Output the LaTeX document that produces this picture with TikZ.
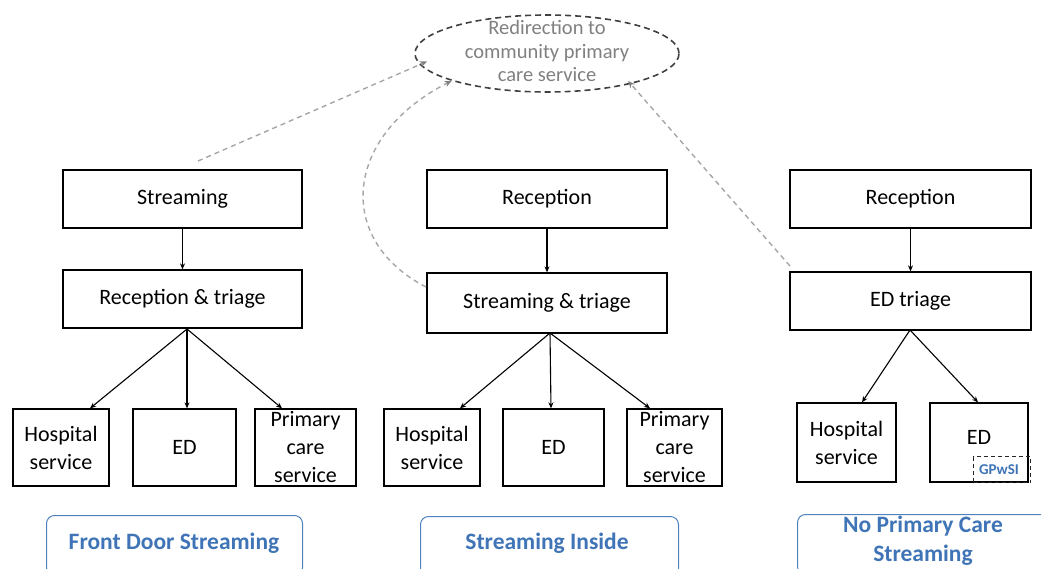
\documentclass[tikz,border=0pt]{standalone}
\usepackage{fontspec}
\setmainfont{Carlito}
\usetikzlibrary{shapes.geometric,arrows.meta,calc}
\definecolor{lblue}{HTML}{4F81BD}
\definecolor{tblue}{HTML}{3F74B6}
\definecolor{dgray}{HTML}{A6A6A6}
\begin{document}
\begin{tikzpicture}[x=1pt,y=-1pt,
  box/.style={draw=black,line width=1.3pt,inner sep=0pt,align=center,font=\fontsize{22}{26}\selectfont},
  topbox/.style={box,minimum width=240,minimum height=58},
  leaf/.style={box,minimum height=77,font=\fontsize{22}{28}\selectfont},
  conn/.style={line width=1.1pt,-{Stealth[length=6pt,width=5pt]}},
  redir/.style={draw=dgray,line width=1.4pt,dash pattern=on 5pt off 4pt,-{Stealth[length=7pt,width=6pt,fill=gray,color=gray]}},
  tagbox/.style={draw=lblue,line width=1pt,rounded corners=8pt,inner sep=0pt},
  tagtext/.style={text=tblue,font=\fontsize{23.5}{29}\selectfont\bfseries,align=center}
]
\useasboundingbox (0,0) rectangle (1041,568);
\clip (0,0) rectangle (1041,568);

% ellipse
\node[ellipse,draw=black!75,line width=1.6pt,dash pattern=on 6pt off 4pt,minimum width=264,minimum height=77,inner sep=0pt] (red) at (547,53.5) {};
\node[text=gray,align=center,font=\fontsize{20.5}{23.5}\selectfont,inner sep=0pt] (redt) at (547,51) {Redirection to\\community primary\\care service};

% column 1
\node[topbox,minimum width=239] (s1) at (182.5,199) {Streaming};
\node[topbox,minimum width=239] (r1) at (182.5,299) {Reception \& triage};
\node[leaf,minimum width=96] (h1) at (61,447.5) {Hospital\\service};
\node[leaf,minimum width=103] (e1) at (184.5,447.5) {ED};
\node[leaf,minimum width=101] (p1) at (305.5,447.5) {Primary\\care\\service};
\draw[conn] (s1.south) -- (r1.north);
\coordinate (f1) at (187,329);
\draw[conn] (f1) -- ($(h1.north)+(29,0)$);
\draw[conn] (f1) -- ($(e1.north)+(2.5,0)$);
\draw[conn] (f1) -- ($(p1.north)+(-23.5,0)$);

% column 2
\node[topbox] (s2) at (547,199) {Reception};
\node[topbox,minimum height=60] (r2) at (547,303) {Streaming \& triage};
\node[leaf,minimum width=96] (h2) at (432,447.5) {Hospital\\service};
\node[leaf,minimum width=101] (e2) at (553.5,447.5) {ED};
\node[leaf,minimum width=95] (p2) at (674.5,447.5) {Primary\\care\\service};
\draw[conn] (s2.south) -- (r2.north);
\coordinate (f2) at (550,333);
\draw[conn] (f2) -- ($(h2.north)+(28,0)$);
\draw[conn] (f2) -- ($(e2.north)+(-2.5,0)$);
\draw[conn] (f2) -- ($(p2.north)+(-24.5,0)$);

% column 3
\node[topbox,minimum width=241] (s3) at (910.5,199) {Reception};
\node[topbox,minimum width=241] (r3) at (910.5,301) {ED triage};
\node[leaf,minimum width=99,minimum height=79] (h3) at (846.5,442.5) {Hospital\\service};
\node[leaf,minimum width=98,minimum height=79,text depth=10pt] (e3) at (979,442.5) {ED};
\draw[conn] (s3.south) -- (r3.north);
\coordinate (f3) at (910,330);
\draw[conn] (f3) -- ($(h3.north)+(15.5,0)$);
\draw[conn] (f3) -- ($(e3.north)+(-1,0)$);
\node[draw=black!85,line width=1pt,dash pattern=on 4pt off 3pt,minimum width=57,minimum height=26,inner sep=0pt,anchor=north west,
  font=\fontsize{15}{17}\selectfont\bfseries,text=tblue] (gp) at (973,456) {\hspace*{-6pt}GPwSI};

% redirection arrows
\coordinate (a1) at (198,161);
\coordinate (a2) at (426,287);
\coordinate (a3) at (790,266);
\draw[redir,shorten >=-8pt] (a1) -- (red.185);
\draw[redir] (a2) .. controls (335,240) and (343,136) .. (red.196);
\draw[redir,shorten >=-4pt] (a3) -- (red.340);

% labels
\node[tagbox,minimum width=256,minimum height=60,anchor=north west] (l1) at (46,515) {};
\node[tagtext] (t1) at (174,543) {Front Door Streaming};
\node[tagbox,minimum width=258,minimum height=60,anchor=north west] (l2) at (420,516) {};
\node[tagtext] (t2) at (547,543) {Streaming Inside};
\node[tagbox,minimum width=260,minimum height=60,anchor=north west] (l3) at (797,514) {};
\node[tagtext] (t3) at (923,541) {No Primary Care\\Streaming};
\end{tikzpicture}
\end{document}
